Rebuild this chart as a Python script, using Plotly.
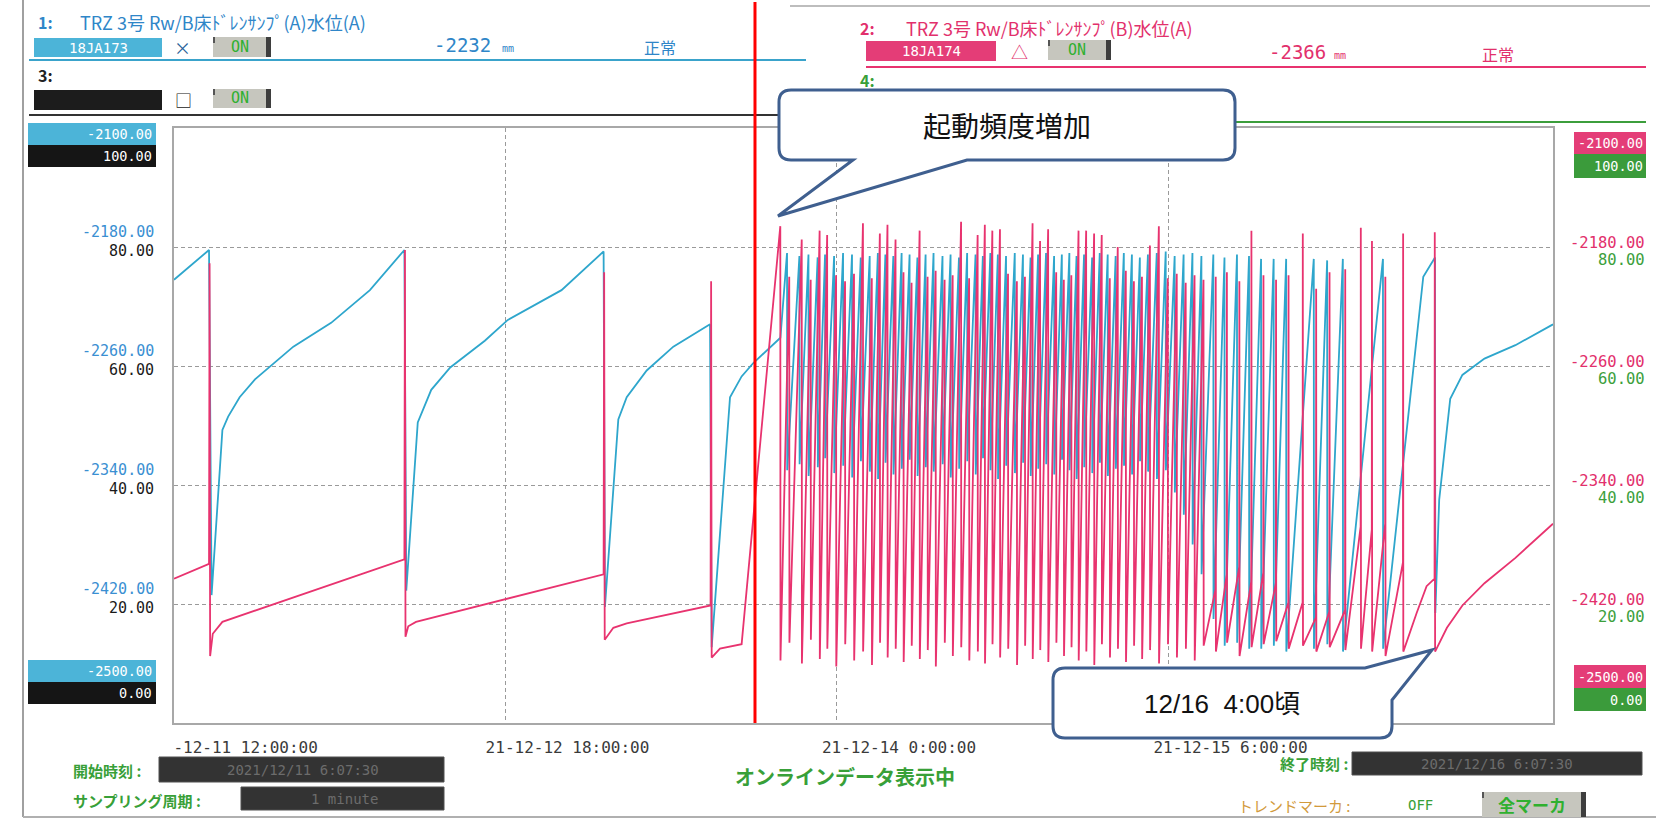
import pandas as pd
import plotly.graph_objects as go

BASE = pd.Timestamp("2021-12-11 12:00:00")

# ---------------- data: hours since 2021-12-11 12:00, level in mm ----------------
# trend 1 (18JA173, blue) - slow cycles before the marker
blue_left_t = [0.00, 3.17, 3.40, 4.38, 4.90, 5.94, 7.33, 9.05, 10.80, 14.22, 17.73,
               20.85, 21.02, 22.06, 23.28, 25.00, 28.13, 30.21, 35.07,
               38.88, 39.00, 40.21, 40.97, 42.78, 45.19,
               48.51, 48.66, 50.32, 51.37, 52.43, 54.88]
blue_left_v = [-2202, -2182, -2414, -2303, -2294, -2281, -2269, -2258, -2247, -2231, -2209,
               -2182, -2411, -2298, -2276, -2261, -2243, -2229, -2209,
               -2183, -2422, -2296, -2281, -2263, -2247,
               -2232, -2449, -2281, -2267, -2258, -2241]
# trend 2 (18JA174, pink) - slow cycles before the marker
pink_left_t = [0.00, 3.17, 3.22, 3.27, 3.51, 4.38,
               20.85, 20.90, 20.95, 21.20, 21.90,
               38.88, 38.93, 38.98, 39.76, 40.97,
               48.56, 48.61, 48.66, 49.41, 51.37]
pink_left_v = [-2403, -2393, -2191, -2455, -2440, -2432,
               -2390, -2182, -2442, -2435, -2432,
               -2400, -2197, -2444, -2436, -2433,
               -2421, -2203, -2456, -2450, -2447]

# frequent pump starts (one row per start)
cyc_t = [54.87, 55.68, 56.81, 57.62, 58.43, 59.11, 59.92, 60.73, 61.54, 62.35,
         63.15, 63.88, 64.57, 65.30, 66.02, 66.75, 67.48, 68.20, 68.93, 69.74,
         70.47, 71.23, 71.96, 72.73, 73.38, 74.06, 74.75, 75.48, 76.28, 77.01,
         77.70, 78.38, 79.11, 79.84, 80.53, 81.21, 81.86, 82.55, 83.27, 83.96,
         84.69, 85.41, 86.14, 86.87, 87.60, 88.32, 89.13, 89.94, 90.75, 91.56,
         92.36, 93.17, 94.26, 95.27, 96.40, 97.49, 98.58, 99.72, 100.85, 102.14,
         103.35, 104.56, 105.98, 107.39, 108.40, 109.61, 111.22]
cyc_blue_t = [54.70, 55.48, 56.60, 57.42, 58.25, 58.92, 59.74, 60.55, 61.36, 62.15,
              62.96, 63.70, 64.38, 65.10, 65.85, 66.57, 67.28, 68.02, 68.74, 69.55,
              70.28, 71.04, 71.78, 72.54, 73.20, 73.88, 74.56, 75.30, 76.09, 76.83,
              77.52, 78.20, 78.92, 79.65, 80.35, 81.03, 81.68, 82.36, 83.09, 83.78,
              84.50, 85.22, 85.96, 86.69, 87.41, 88.14, 88.94, 89.75, 90.56, 91.37,
              92.17, 92.98, 94.06, 95.07, 96.20, 97.29, 98.38, 99.52, 100.65, 102.14,
              103.15, 104.36, 105.78, 107.39, 108.40, 109.41, 111.22]
cyc_blue_top = [None, -2184, -2186, -2185, -2187, -2185, -2186, -2184, -2185, -2187,
                -2186, -2184, -2185, -2186, -2184, -2185, -2187, -2185, -2184, -2186,
                -2185, -2187, -2184, -2185, -2186, -2184, -2185, -2186, -2184, -2185,
                -2187, -2185, -2184, -2186, -2185, -2184, -2186, -2185, -2187, -2184,
                -2185, -2186, -2184, -2185, -2187, -2185, -2184, -2183, -2186, -2185,
                -2184, -2186, -2185, -2187, -2185, -2186, -2188, -2188, -2188, None,
                -2188, -2189, -2188, None, None, -2188, None]
cyc_blue_bot = [None, -2330, -2326, -2334, -2328, -2322, -2332, -2327, -2335, -2324,
                -2331, -2336, -2325, -2333, -2329, -2323, -2334, -2328, -2331, -2326,
                -2335, -2329, -2324, -2333, -2322, -2330, -2336, -2327, -2332, -2325,
                -2334, -2329, -2326, -2333, -2323, -2330, -2336, -2328, -2332, -2325,
                -2334, -2329, -2327, -2333, -2324, -2331, -2336, -2330, -2345, -2360,
                -2380, -2400, -2430, -2448, -2446, -2450, -2450, -2448, -2452, None,
                -2450, -2447, -2452, None, None, -2450, None]
cyc_pink_pre = [None] * 52 + [-2410, -2400, -2395, -2405, -2399, -2406, -2419, -2419,
                              -2429, -2425, -2424, -2368, -2370, -2366, -2392]
cyc_pink_top = [-2166, -2200, -2175, -2202, -2169, -2172, -2199, -2203, -2198, -2164,
                -2201, -2171, -2165, -2175, -2197, -2204, -2169, -2200, -2196, -2202,
                -2199, -2163, -2201, -2172, -2165, -2169, -2168, -2198, -2203, -2200,
                -2164, -2176, -2168, -2197, -2202, -2199, -2169, -2169, -2171, -2172,
                -2201, -2180, -2196, -2203, -2200, -2179, -2166, -2201, -2198, -2204,
                -2199, -2202, -2200, -2197, -2203, -2169, -2199, -2202, -2199, -2171,
                -2208, -2197, -2195, -2167, -2176, -2200, -2171]
cyc_pink_bot = [-2458, -2446, -2460, -2444, -2457, -2450, -2462, -2447, -2458, -2452,
                -2461, -2446, -2456, -2450, -2459, -2448, -2457, -2451, -2462, -2446,
                -2455, -2449, -2458, -2452, -2460, -2447, -2456, -2450, -2461, -2448,
                -2457, -2451, -2459, -2446, -2455, -2449, -2458, -2452, -2461, -2447,
                -2456, -2450, -2459, -2448, -2457, -2451, -2460, -2447, -2456, -2450,
                -2458, -2448, -2452, -2446, -2455, -2449, -2447, -2445, -2450, -2448,
                -2452, -2449, -2451, -2450, -2452, -2455, -2452]

# last start (~12/16 early morning) and recovery to the current values
blue_tail_t = [113.06, 114.12, 114.15, 114.50, 115.50, 116.60, 118.60, 121.40, 124.80]
blue_tail_v = [-2200, -2187, -2426, -2350, -2282, -2266, -2255, -2246, -2232]
pink_tail_t = [112.46, 113.36, 114.08, 114.10, 114.13, 115.20, 116.60, 118.60, 121.40, 124.80]
pink_tail_v = [-2426, -2408, -2403, -2170, -2452, -2436, -2421, -2406, -2389, -2366]

SAMPLE_H = 1 / 60  # sampling period: 1 minute
marker_h = 52.58   # red marker line
x_range_h = [0, 124.8]

x_tick_h = [0, 30, 60, 90]
x_tick_labels = ["\u00a0\u00a0-12-11 12:00:00", "21-12-12 18:00:00",
                 "21-12-14 0:00:00", "21-12-15 6:00:00"]
y_mm_ticks = [-2180, -2260, -2340, -2420]
y_pct_ticks = [80, 60, 40, 20]
y_range = [-2500, -2100]
pct_range = [0, 100]

# ---------------- build series ----------------
blue_t, blue_v = list(blue_left_t), list(blue_left_v)
pink_t, pink_v = list(pink_left_t), list(pink_left_v)
for t, tb, bt, bb, pp, pt, pb in zip(cyc_t, cyc_blue_t, cyc_blue_top, cyc_blue_bot,
                                     cyc_pink_pre, cyc_pink_top, cyc_pink_bot):
    if bt is not None:
        blue_t += [tb, tb + SAMPLE_H]
        blue_v += [bt, bb]
    if pp is None:
        pink_t += [t, t + SAMPLE_H]
        pink_v += [pt, pb]
    else:
        pink_t += [t, t + SAMPLE_H, t + 2 * SAMPLE_H]
        pink_v += [pp, pt, pb]
blue_t += blue_tail_t
blue_v += blue_tail_v
pink_t += pink_tail_t
pink_v += pink_tail_v


def T(h):
    return BASE + pd.to_timedelta(h, unit="h")


# ---------------- layout helpers (pixel -> paper) ----------------
W, H = 1662, 820
X0, X1, Y0, Y1 = 174, 1553, 128, 723
MONO = "DejaVu Sans Mono"
CJK = "Noto Sans CJK JP"

BLUE_LINE = "#2ea6cc"
PINK_LINE = "#e8336f"
BLUE_TXT = "#2f86c8"
PINK_TXT = "#e2306c"
GREEN_TXT = "#38a038"
BLUE_BOX = "#4cb4d8"
PINK_BOX = "#e43d77"
GREEN_BOX = "#3b9b3b"
CALLOUT = "#3f5f8f"


def px(x):
    return (x - X0) / (X1 - X0)


def py(y):
    return (Y1 - y) / (Y1 - Y0)


shapes = []
anns = []


def rect(x0, y0, x1, y1, fill, line=None, lw=0):
    shapes.append(dict(type="rect", xref="paper", yref="paper",
                       x0=px(x0), x1=px(x1), y0=py(y1), y1=py(y0),
                       fillcolor=fill, line=dict(color=line or fill, width=lw),
                       layer="above"))


def seg(x0, y0, x1, y1, color, w):
    shapes.append(dict(type="line", xref="paper", yref="paper",
                       x0=px(x0), x1=px(x1), y0=py(y0), y1=py(y1),
                       line=dict(color=color, width=w), layer="above"))


def txt(x, y, s, size, color, anchor="left", family=MONO):
    anns.append(dict(xref="paper", yref="paper", x=px(x), y=py(y), text=s,
                     showarrow=False, xanchor=anchor, yanchor="middle",
                     font=dict(family=family, size=size, color=color)))


def button(x0, y0, x1, y1, label, size, family=MONO):
    rect(x0, y0, x1, y1, "#c6c6be")
    rect(x1 - 5, y0, x1, y1, "#3e3e3e")
    rect(x0, y0, x0 + 2, y0 + 6, "#555555")
    txt((x0 + x1 - 5) / 2, (y0 + y1) / 2, label, size, "#2fb02f", "center", family)


def path(cmds):
    out = []
    for c, pts in cmds:
        out.append(c + " " + " ".join(f"{px(a):.5f},{py(b):.5f}" for a, b in pts))
    return " ".join(out) + " Z"


# outer frame of the screen
seg(23, 0, 23, 817, "#a0a0a0", 2)
seg(23, 817, 1656, 817, "#b0b0b0", 2)
seg(790, 6, 1650, 6, "#bdbdbd", 2)

# ---- header, pen 1 / pen 3 ----
txt(36, 22, "<b>1:</b>", 16, BLUE_TXT, family=CJK)
txt(78, 22, "TRZ 3号 Rw/B床ﾄﾞﾚﾝｻﾝﾌﾟ(A)水位(A)", 18, BLUE_TXT, family=CJK)
rect(34, 38, 162, 57, BLUE_BOX)
txt(98, 47.5, "18JA173", 14, "white", "center")
txt(182, 47, "×", 17, "#2b5f9a", "center", CJK)
button(213, 37, 271, 57, "ON", 15)
txt(462, 45, "-2232", 19, BLUE_TXT, "center")
txt(508, 48, "mm", 10, BLUE_TXT, "center")
txt(660, 47, "正常", 16, BLUE_TXT, "center", CJK)
seg(29, 60, 806, 60, "#3aa3cb", 2)
txt(36, 75, "<b>3:</b>", 16, "#222222", family=CJK)
rect(34, 90, 162, 110, "#1c1c1c")
txt(183, 100, "□", 17, "#222222", "center", CJK)
button(213, 89, 271, 108, "ON", 15)
seg(29, 115, 806, 115, "#333333", 2)

# ---- header, pen 2 / pen 4 ----
txt(858, 28, "<b>2:</b>", 16, PINK_TXT, family=CJK)
txt(904, 28, "TRZ 3号 Rw/B床ﾄﾞﾚﾝｻﾝﾌﾟ(B)水位(A)", 18, PINK_TXT, family=CJK)
rect(866, 41, 996, 61, PINK_BOX)
txt(931, 51, "18JA174", 14, "white", "center")
txt(1019, 51, "△", 17, PINK_TXT, "center", CJK)
button(1048, 40, 1111, 60, "ON", 15)
txt(1297, 52, "-2366", 19, PINK_TXT, "center")
txt(1340, 55, "mm", 10, PINK_TXT, "center")
txt(1498, 54, "正常", 16, PINK_TXT, "center", CJK)
seg(866, 67, 1646, 67, PINK_LINE, 2)
txt(858, 80, "<b>4:</b>", 16, GREEN_TXT, family=CJK)
seg(866, 122, 1646, 122, "#3c9e3c", 2)

# ---- scale boxes ----
rect(28, 123, 156, 145, BLUE_BOX)
txt(154, 134, f"{y_range[1]:.2f}", 13.5, "white", "right")
rect(28, 145, 156, 167, "#151515")
txt(154, 156, f"{pct_range[1]:.2f}", 13.5, "white", "right")
rect(28, 660, 156, 682, BLUE_BOX)
txt(154, 671, f"{y_range[0]:.2f}", 13.5, "white", "right")
rect(28, 682, 156, 704, "#151515")
txt(154, 693, f"{pct_range[0]:.2f}", 13.5, "white", "right")

rect(1574, 132, 1646, 154, PINK_BOX)
txt(1645, 143, f"{y_range[1]:.2f}", 13.5, "white", "right")
rect(1574, 154, 1646, 178, GREEN_BOX)
txt(1645, 166, f"{pct_range[1]:.2f}", 13.5, "white", "right")
rect(1574, 665, 1646, 688, PINK_BOX)
txt(1645, 676.5, f"{y_range[0]:.2f}", 13.5, "white", "right")
rect(1574, 688, 1646, 711, GREEN_BOX)
txt(1645, 699.5, f"{pct_range[0]:.2f}", 13.5, "white", "right")

for mm, pc in zip(y_mm_ticks, y_pct_ticks):
    anns.append(dict(xref="paper", yref="y", x=px(156), y=mm, yshift=15, text=f"{mm:.2f}",
                     showarrow=False, xanchor="right", yanchor="middle",
                     font=dict(family=MONO, size=15, color="#3a8fd2")))
    anns.append(dict(xref="paper", yref="y", x=px(156), y=mm, yshift=-4, text=f"{pc:.2f}",
                     showarrow=False, xanchor="right", yanchor="middle",
                     font=dict(family=MONO, size=15, color="#1a1a1a")))
    anns.append(dict(xref="paper", yref="y", x=px(1647), y=mm, yshift=4, text=f"{mm:.2f}",
                     showarrow=False, xanchor="right", yanchor="middle",
                     font=dict(family=MONO, size=15.5, color=PINK_TXT)))
    anns.append(dict(xref="paper", yref="y", x=px(1647), y=mm, yshift=-13, text=f"{pc:.2f}",
                     showarrow=False, xanchor="right", yanchor="middle",
                     font=dict(family=MONO, size=15.5, color="#3ca03c")))

# ---- footer ----
txt(71, 770, "<b>開始時刻 :</b>", 15, GREEN_TXT, family=CJK)
rect(159, 757, 444, 782, "#333333", "#505050", 1)
txt(303, 769.5, "2021/12/11 6:07:30", 14, "#6c6c6c", "center")
txt(71, 800, "<b>サンプリング周期 :</b>", 15, GREEN_TXT, family=CJK)
rect(241, 787, 444, 810, "#333333", "#505050", 1)
txt(344, 798.5, "1 minute", 14, "#6c6c6c", "center")
txt(845, 777, "<b>オンラインデータ表示中</b>", 20, GREEN_TXT, "center", CJK)
txt(1350, 763, "<b>終了時刻 :</b>", 15, GREEN_TXT, "right", CJK)
rect(1352, 752, 1642, 775, "#333333", "#505050", 1)
txt(1497, 763.5, "2021/12/16 6:07:30", 14, "#6c6c6c", "center")
txt(1236, 805, "トレンドマーカ :", 15, "#d29a3c", family=CJK)
txt(1420, 805, "OFF", 14, GREEN_TXT, "center")
button(1482, 792, 1586, 817, "<b>全マーカ</b>", 17, CJK)

# ---- callouts ----
L, R, TT, B, r = 779, 1235, 90, 160, 12
shapes.append(dict(type="path", xref="paper", yref="paper", layer="above",
                   fillcolor="white", line=dict(color=CALLOUT, width=3),
                   path=path([("M", [(L + r, TT)]), ("L", [(R - r, TT)]),
                              ("Q", [(R, TT), (R, TT + r)]), ("L", [(R, B - r)]),
                              ("Q", [(R, B), (R - r, B)]), ("L", [(967, B)]),
                              ("L", [(778, 216)]), ("L", [(853, B)]),
                              ("L", [(L + r, B)]), ("Q", [(L, B), (L, B - r)]),
                              ("L", [(L, TT + r)]), ("Q", [(L, TT), (L + r, TT)])])))
txt(1007, 125, "起動頻度増加", 28, "#111111", "center", CJK)

L, R, TT, B = 1053, 1392, 668, 738
shapes.append(dict(type="path", xref="paper", yref="paper", layer="above",
                   fillcolor="white", line=dict(color=CALLOUT, width=3),
                   path=path([("M", [(L + r, TT)]), ("L", [(1365, TT)]),
                              ("L", [(1432, 650)]), ("L", [(R, 700)]),
                              ("L", [(R, B - r)]), ("Q", [(R, B), (R - r, B)]),
                              ("L", [(L + r, B)]), ("Q", [(L, B), (L, B - r)]),
                              ("L", [(L, TT + r)]), ("Q", [(L, TT), (L + r, TT)])])))
txt(1222, 704, "12/16\u00a0\u00a04:00頃", 26, "#111111", "center", "Liberation Sans, Noto Sans CJK JP")

# red marker
shapes.append(dict(type="line", xref="x", yref="paper", x0=T(marker_h), x1=T(marker_h),
                   y0=0, y1=py(2), line=dict(color="#ff0000", width=3), layer="above"))

# ---------------- figure ----------------
fig = go.Figure()
fig.add_trace(go.Scatter(x=T(pd.Series(blue_t)), y=blue_v, mode="lines",
                         line=dict(color=BLUE_LINE, width=1.8), name="18JA173"))
fig.add_trace(go.Scatter(x=T(pd.Series(pink_t)), y=pink_v, mode="lines",
                         line=dict(color=PINK_LINE, width=1.8), name="18JA174"))

fig.update_layout(width=W, height=H, margin=dict(l=X0, r=W - X1, t=Y0, b=H - Y1),
                  paper_bgcolor="white", plot_bgcolor="white", showlegend=False,
                  shapes=shapes, annotations=anns)
fig.update_xaxes(type="date", range=[T(x_range_h[0]), T(x_range_h[1])],
                 tickvals=[T(h) for h in x_tick_h], ticktext=x_tick_labels,
                 showgrid=True, gridcolor="#9a9a9a", griddash="4px,3px", gridwidth=1,
                 showline=True, linecolor="#a8a8a8", linewidth=1.5, mirror=True,
                 ticks="", zeroline=False, ticklabelshift=62, ticklabelstandoff=9,
                 tickfont=dict(family=MONO, size=16, color="#3a3a3a"))
fig.update_yaxes(range=y_range, tickvals=y_mm_ticks, showticklabels=False,
                 showgrid=True, gridcolor="#9a9a9a", griddash="4px,3px", gridwidth=1,
                 showline=True, linecolor="#a8a8a8", linewidth=1.5, mirror=True,
                 ticks="", zeroline=False)

fig.write_html("out.html", config={"displayModeBar": False},
               post_script="document.body.style.margin='0';"
                           "document.body.style.overflow='hidden';")
